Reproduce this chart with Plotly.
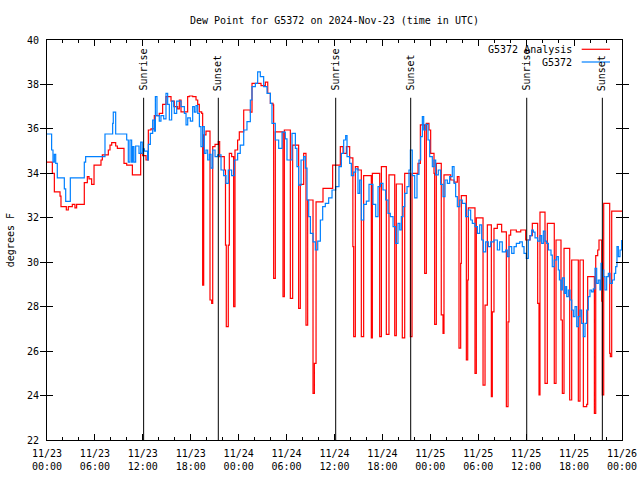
import plotly.graph_objects as go

# ---- data (hours since 2024-11-23 00:00 UTC, dew point in F) ----
red_h = [0, 0.67, 0.92, 1.63, 1.75, 2.42, 2.67, 3.17, 3.5, 3.71, 4.67, 5.05, 5.26, 5.59, 5.89,
         6.76, 6.93, 7.68, 7.89, 8.1, 8.6, 8.81, 9.64, 9.98, 10.69, 11.73, 11.98, 12.4, 12.69,
         13.02, 13.44, 14.06, 14.48, 14.9, 15.53, 15.94, 16.36, 16.57, 16.78, 17.61, 17.82,
         18.24, 18.66, 18.87, 19.07, 19.37, 19.49, 19.62, 19.91, 20.41, 20.62, 20.75, 21.04,
         21.45, 21.62, 22.2, 22.35, 22.45, 22.7, 22.83, 23.12, 23.37, 23.54, 23.87, 24.08,
         24.63, 25.46, 25.67, 26.8, 27.34, 27.64, 27.97, 28.3, 28.38, 28.59, 29.55, 29.72,
         30.47, 30.76, 31.51, 31.72, 32.14, 32.43, 32.64, 33.31, 33.48, 33.69, 34.56, 35.77,
         36.73, 37.07, 37.49, 37.9, 38.3, 38.4, 38.61, 38.94, 39.36, 39.65, 40.61, 40.74,
         41.66, 41.87, 42.49, 42.82, 43.54, 43.74, 44.49, 44.79, 45.5, 45.71, 46.46, 46.75,
         47.29, 47.5, 47.83, 48.04, 48.46, 48.54, 48.75, 49.37, 49.59, 49.71, 50.55, 50.97,
         51.38, 51.59, 51.8, 51.88, 52.51, 52.68, 52.76, 53.59, 53.76, 54.6, 54.85, 55.14,
         55.64, 55.76, 55.97, 56.39, 56.93, 57.52, 57.73, 57.85, 58.06, 58.77, 59.32, 59.94,
         60.48, 60.77, 61.44, 61.61, 61.73, 62.36, 62.65, 63.52, 63.74, 64.36, 64.53, 64.74,
         65.45, 65.7, 66.53, 66.74, 67.16, 67.58, 67.7, 68.54, 68.71, 68.96, 69.12, 69.46,
         69.54, 69.71, 70.46, 70.54, 70.71, 72.0]
red_v = [34.5, 34.0, 33.17, 32.97, 32.5, 32.35, 32.5, 32.6, 32.45, 32.6, 33.58, 33.85, 33.75, 33.5, 34.37,
         34.6, 34.83, 35.05, 35.27, 35.38, 35.23, 35.12, 34.45, 34.37, 33.93, 34.9, 34.8, 34.6, 35.95,
         36.0, 36.6, 36.7, 37.1, 37.45, 37.25, 37.0, 36.9, 37.3, 36.77, 37.45, 37.48,
         37.45, 37.3, 37.1, 36.77, 36.7, 28.97, 35.73, 35.9, 28.3, 28.15, 35.2, 35.3,
         35.43, 34.75, 34.15, 30.77, 27.1, 30.77, 34.9, 34.75, 28.0, 35.05, 35.5, 35.87,
         36.85, 36.75, 38.05, 37.95, 38.1, 37.6, 37.15, 37.08, 29.27, 35.87, 28.45, 35.95,
         28.37, 35.27, 27.92, 33.5, 34.9, 27.17, 32.8, 24.1, 25.45, 32.72, 33.32, 34.37,
         35.2, 34.9, 35.2, 34.7, 30.7, 26.65, 34.3, 34.15, 26.65, 33.9, 26.6, 34.0,
         26.65, 34.3, 26.75, 33.93, 26.7, 33.52, 26.6, 34.0, 26.65, 34.0, 34.45, 36.18,
         29.5, 36.25, 35.95, 34.9, 34.0, 27.2, 34.45, 27.63, 26.8, 33.93, 33.7, 33.6,
         33.85, 26.13, 29.95, 33.0, 25.6, 29.2, 32.45, 25.0, 32.0, 24.47, 28.07, 31.68,
         23.95, 27.77, 31.52, 31.7, 31.37, 23.5, 27.32, 31.22, 31.45, 31.37, 31.45, 31.0,
         31.2, 31.75, 28.15, 24.03, 32.25, 24.55, 31.75, 24.55, 31.0, 27.4, 24.1, 30.62,
         23.8, 30.1, 23.75, 30.1, 23.5, 23.6, 29.35, 23.2, 30.3, 30.55, 31.0, 28.25,
         24.03, 32.65, 25.9, 25.75, 32.3, 32.3]

blue_h = [0, 0.58, 0.75, 0.92, 1.09, 1.29, 2.17, 2.34, 2.92, 4.67, 4.84, 7.26, 8.22, 8.3, 8.6,
          9.98, 10.18, 10.39, 10.6, 10.73, 10.89, 11.1, 11.52, 11.73, 11.93,
          11.98, 12.19, 12.6, 12.69, 12.94, 13.23, 13.44, 13.57, 13.77, 14.06, 14.27, 14.61,
          14.9, 15.11, 15.32, 15.61, 15.86, 15.94, 16.24, 16.78, 17.2, 17.41, 17.62, 17.95,
          18.24, 18.45, 18.66, 18.87, 19.08, 19.28, 19.49, 19.7, 19.91, 20.12, 20.33, 20.54,
          20.75, 21.04, 21.37, 21.79, 22.12, 22.41, 22.7, 23.12, 23.46, 23.87, 24.2,
          24.63, 25.04, 25.46, 25.67, 26.09, 26.38, 26.71, 27.13, 27.55, 27.97, 28.17, 28.59,
          29.01, 29.43, 29.84, 30.05, 30.68, 31.1, 31.3, 31.51, 31.81, 32.14, 32.35, 32.56,
          32.77, 32.98, 33.31, 33.6, 33.9, 34.23, 34.52, 34.85, 35.27, 35.69,
          36.15, 36.56, 36.86, 37.15, 37.4, 37.57, 37.9, 38.11, 38.4, 38.65, 38.94, 39.15,
          39.36, 39.65, 39.99, 40.32, 40.82, 41.16, 41.45, 41.74, 42.07, 42.41, 42.7, 42.99,
          43.33, 43.66, 43.95, 44.17, 44.37, 44.58, 44.79, 45.08, 45.33, 45.5, 45.74, 46.04,
          46.33, 46.58, 46.79, 47.0, 47.17, 47.42, 47.71, 47.92,
          48.25, 48.46, 48.67, 49.0, 49.29, 49.59, 49.84, 50.13, 50.42, 50.75, 50.97, 51.17,
          51.38, 51.68, 52.0, 52.42, 52.76, 53.05, 53.26, 53.59, 53.89, 54.18, 54.43, 54.64,
          54.93, 55.26, 55.56, 55.97, 56.39, 56.68, 57.01, 57.43, 57.64, 57.85, 58.19, 58.48,
          58.77, 59.19, 59.52, 59.73, 60.02,
          60.27, 60.48, 60.69, 60.9, 61.11, 61.44, 61.73, 61.94, 62.15, 62.36, 62.57, 62.78,
          63.11, 63.27, 63.52, 63.82, 64.03, 64.16, 64.36, 64.53, 64.78, 64.95, 65.07, 65.28,
          65.49, 65.7, 65.91, 66.12, 66.33, 66.53, 66.74, 66.95, 67.16, 67.37, 67.58, 67.78,
          67.99, 68.2, 68.41, 68.62, 68.83, 69.03, 69.24, 69.37, 69.54, 69.71, 69.87, 70.08,
          70.29, 70.5, 70.79, 71.04, 71.21, 71.37, 71.54, 71.75, 71.96]
blue_v = [35.77, 35.05, 34.5, 34.85, 34.45, 33.8, 33.3, 32.74, 33.8, 34.5, 34.75, 35.77, 36.25, 36.75, 35.77,
          35.5, 34.5, 35.5, 34.5, 35.2, 34.5, 35.23, 34.9, 35.4, 34.9,
          35.1, 35.0, 34.6, 35.3, 35.8, 36.4, 35.9, 37.45, 36.6, 36.35, 36.6, 36.45,
          37.6, 37.1, 36.4, 37.25, 37.0, 36.7, 37.25, 37.0, 36.7, 36.18, 36.5, 36.35,
          37.0, 36.75, 37.05, 36.7, 36.1, 35.2, 36.1, 34.9, 35.05, 34.6, 34.85, 34.23,
          35.05, 34.75, 34.83, 34.15, 33.9, 33.55, 34.15, 33.9, 34.6, 34.9, 35.27,
          35.95, 36.33, 37.3, 37.9, 38.05, 38.57, 38.35, 37.9, 37.6, 37.15, 36.25, 35.5,
          35.12, 35.85, 35.55, 34.6, 35.8, 35.12, 34.3, 33.47, 34.6, 34.75, 34.23, 32.8,
          32.05, 31.3, 30.92, 30.55, 30.95, 31.9, 32.5, 32.65, 32.9, 33.25,
          33.4, 34.3, 34.9, 35.5, 35.7, 34.75, 34.45, 33.9, 34.05, 34.2, 33.1, 33.7,
          31.9, 32.6, 32.75, 33.5, 32.6, 32.05, 33.4, 33.55, 33.25, 32.8, 32.2, 32.05,
          31.6, 30.85, 31.75, 31.45, 32.05, 32.5, 33.1, 33.4, 34.15, 35.05, 33.9, 32.9,
          33.95, 34.6, 35.65, 36.55, 35.95, 36.2, 35.5, 34.75,
          34.3, 34.6, 33.93, 34.15, 33.5, 32.95, 33.7, 33.55, 33.85, 34.3, 33.55, 32.95,
          32.5, 32.8, 32.65, 32.05, 32.35, 31.9, 31.75, 31.6, 31.3, 31.68, 31.0, 30.47,
          30.92, 30.7, 30.92, 31.0, 30.55, 30.92, 30.47, 30.55, 30.25, 30.7, 30.4, 30.7,
          30.85, 30.92, 30.7, 30.4, 30.17,
          31.0, 31.2, 31.45, 31.35, 31.1, 30.95, 31.2, 30.85, 31.4, 30.95, 30.85, 30.55,
          30.32, 29.8, 30.1, 30.25, 29.65, 29.2, 28.75, 29.3, 28.6, 28.9, 28.45, 28.75,
          28.3, 27.85, 27.55, 28.0, 27.1, 27.55, 27.85, 27.25, 26.65, 27.25, 27.85, 28.45,
          28.75, 28.67, 28.8, 29.72, 29.05, 29.2, 28.75, 29.95, 29.65, 29.35, 28.75, 29.35,
          29.5, 29.05, 29.2, 29.5, 29.8, 30.7, 30.25, 30.55, 31.0]

sun_h = [12.1, 21.45, 36.15, 45.54, 60.07, 69.54]
sun_lbl = ["Sunrise", "Sunset", "Sunrise", "Sunset", "Sunrise", "Sunset"]

tick_h = [0, 6, 12, 18, 24, 30, 36, 42, 48, 54, 60, 66, 72]
tick_date = ["11/23", "11/23", "11/23", "11/23", "11/24", "11/24", "11/24", "11/24",
             "11/25", "11/25", "11/25", "11/25", "11/26"]
tick_time = ["00:00", "06:00", "12:00", "18:00", "00:00", "06:00", "12:00", "18:00",
             "00:00", "06:00", "12:00", "18:00", "00:00"]

series_names = ["G5372 Analysis", "G5372"]
series_colors = ["#ff0000", "#0080ff"]

FONT = "DejaVu Sans Mono"

fig = go.Figure()
fig.add_trace(go.Scatter(x=red_h, y=red_v, mode="lines", line_shape="hv",
                         line=dict(color=series_colors[0], width=1.2), name=series_names[0]))
fig.add_trace(go.Scatter(x=blue_h, y=blue_v, mode="lines", line_shape="hv",
                         line=dict(color=series_colors[1], width=1.2), name=series_names[1]))
# helper (invisible) trace so that the second-line time labels axis is drawn
fig.add_trace(go.Scatter(x=[tick_h[0]], y=[blue_v[0]], xaxis="x2", yaxis="y", mode="markers",
                         marker=dict(opacity=0, size=1), hoverinfo="skip", showlegend=False))

for h, lbl in zip(sun_h, sun_lbl):
    fig.add_shape(type="line", x0=h, x1=h, y0=22, y1=37.4, xref="x", yref="y",
                  line=dict(color="black", width=1))
    fig.add_annotation(x=h, y=37.62, xref="x", yref="y", text=lbl, textangle=-90,
                       showarrow=False, xanchor="center", yanchor="bottom",
                       font=dict(family=FONT, size=10, color="black"))

# legend drawn gnuplot-style (text left, sample right)
leg_y = [0.9768, 0.945]
for name, col, yy in zip(series_names, series_colors, leg_y):
    fig.add_annotation(x=0.9165, y=yy, xref="paper", yref="paper", text=name,
                       showarrow=False, xanchor="right", yanchor="middle",
                       font=dict(family=FONT, size=10, color="black"))
    fig.add_shape(type="line", x0=0.9299, x1=0.9791, y0=yy, y1=yy, xref="paper", yref="paper",
                  line=dict(color=col, width=1.2))

fig.add_annotation(x=-0.064, y=0.5, xref="paper", yref="paper", text="degrees F",
                   textangle=-90, showarrow=False, xanchor="center", yanchor="middle",
                   font=dict(family=FONT, size=10, color="black"))

fig.update_layout(
    width=640, height=480,
    margin=dict(l=47, r=18, t=40, b=40, pad=0),
    paper_bgcolor="white", plot_bgcolor="white",
    showlegend=False,
    font=dict(family=FONT, size=10, color="black"),
    title=dict(text="Dew Point for G5372 on 2024-Nov-23 (time in UTC)", x=0.5, xref="paper",
               y=1 - 20 / 480, yanchor="middle", xanchor="center",
               font=dict(family=FONT, size=10, color="black")),
    xaxis=dict(range=[0, 72], tickvals=tick_h, ticktext=tick_date, ticks="inside", ticklen=6,
               tickcolor="black", showline=True, linecolor="black", linewidth=1, mirror="allticks",
               showgrid=False, zeroline=False, automargin=False, ticklabelstandoff=4,
               minor=dict(dtick=2, tick0=0, ticks="inside", ticklen=3, tickcolor="black",
                          showgrid=False)),
    xaxis2=dict(range=[0, 72], tickvals=tick_h, ticktext=tick_time, overlaying="x", anchor="y",
                side="bottom", ticks="", showline=False, showgrid=False, zeroline=False,
                automargin=False, ticklabelstandoff=19),
    yaxis=dict(range=[22, 40], dtick=2, tick0=22, ticks="inside", ticklen=6, tickcolor="black",
               showline=True, linecolor="black", linewidth=1, mirror="allticks",
               showgrid=False, zeroline=False, automargin=False, ticklabelstandoff=5),
)

fig.write_html("out.html", config={"displayModeBar": False},
               post_script="document.body.style.margin='0';document.body.style.overflow='hidden';")
